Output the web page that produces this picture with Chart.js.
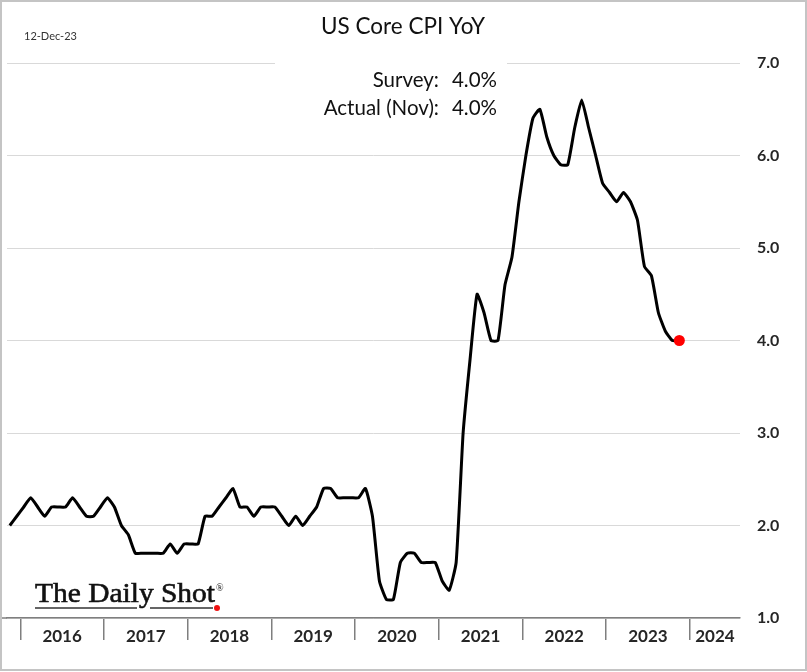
<!DOCTYPE html>
<html><head><meta charset="utf-8">
<script src="https://cdn.jsdelivr.net/npm/chart.js@4.4.0/dist/chart.umd.min.js"></script>
<style>html,body{margin:0;padding:0;background:#fff}#wrap{width:807px;height:672px;position:relative}</style>
</head><body><div id="wrap"><canvas id="c" width="807" height="672"></canvas></div>
<script>
const chartTitle = 'US Core CPI YoY';
const dateLabel = '12-Dec-23';
const noteLabels = ['Survey:', 'Actual (Nov):'];
const noteValues = ['4.0%', '4.0%'];
const logoText = 'The Daily Shot';
const yearLabels = ['2016','2017','2018','2019','2020','2021','2022','2023','2024'];
const firstMonthOffset = -2; // first value = Nov 2015, months relative to Jan 2016
const coreCpi = [
  2.0, 2.1,
  2.2, 2.3, 2.2, 2.1, 2.2, 2.2, 2.2, 2.3, 2.2, 2.1, 2.1, 2.2,
  2.3, 2.2, 2.0, 1.9, 1.7, 1.7, 1.7, 1.7, 1.7, 1.8, 1.7, 1.8,
  1.8, 1.8, 2.1, 2.1, 2.2, 2.3, 2.4, 2.2, 2.2, 2.1, 2.2, 2.2,
  2.2, 2.1, 2.0, 2.1, 2.0, 2.1, 2.2, 2.4, 2.4, 2.3, 2.3, 2.3,
  2.3, 2.4, 2.1, 1.4, 1.2, 1.2, 1.6, 1.7, 1.7, 1.6, 1.6, 1.6,
  1.4, 1.3, 1.6, 3.0, 3.8, 4.5, 4.3, 4.0, 4.0, 4.6, 4.9, 5.5,
  6.0, 6.4, 6.5, 6.2, 6.0, 5.9, 5.9, 6.3, 6.6, 6.3, 6.0, 5.7,
  5.6, 5.5, 5.6, 5.5, 5.3, 4.8, 4.7, 4.3, 4.1, 4.0, 4.0
];
const yTicks = [1, 2, 3, 4, 5, 6, 7];

const X_MIN = -1.9, X_MAX = 103.2;
const boundaries = yearLabels.map((y, i) => i * 12);
const centers = yearLabels.map((y, i) => i < yearLabels.length - 1 ? i * 12 + 6 : (i * 12 + X_MAX) / 2);
const points = coreCpi.map((v, i) => ({ x: firstMonthOffset + i + 0.5, y: v }));
const lastIdx = coreCpi.length - 1;

const deco = {
  id: 'deco',
  beforeDraw(chart) {
    const ctx = chart.ctx;
    ctx.save(); ctx.fillStyle = '#fff'; ctx.fillRect(0, 0, chart.width, chart.height); ctx.restore();
  },
  beforeDatasetsDraw(chart) {
    const ctx = chart.ctx; const a = chart.chartArea;
    ctx.save();
    ctx.strokeStyle = '#7f7f7f'; ctx.lineWidth = 1.5;
    ctx.beginPath(); ctx.moveTo(1, a.bottom); ctx.lineTo(a.left, a.bottom); ctx.stroke();
    ctx.fillStyle = '#fff'; ctx.fillRect(275, 50, 232, 75);
    ctx.fillStyle = '#111';
    ctx.font = '22.5px Lato'; ctx.textAlign = 'center'; ctx.textBaseline = 'middle';
    ctx.fillText(chartTitle, 403, 27);
    ctx.font = '20.5px Lato';
    ctx.textAlign = 'right';
    noteLabels.forEach((t, i) => ctx.fillText(t, 439, 80 + i * 28));
    noteValues.forEach((t, i) => ctx.fillText(t, 497, 80 + i * 28));
    ctx.font = '11px Lato'; ctx.textAlign = 'left'; ctx.fillStyle = '#333';
    ctx.fillText(dateLabel, 24, 36);
    ctx.font = '28px "Liberation Serif"'; ctx.fillStyle = '#111'; ctx.textBaseline = 'alphabetic';
    const w = ctx.measureText(logoText).width;
    ctx.save(); ctx.translate(35, 602); ctx.scale(180 / w, 1);
    ctx.strokeStyle = '#111'; ctx.lineWidth = 0.6; ctx.fillText(logoText, 0, 0); ctx.strokeText(logoText, 0, 0);
    ctx.restore();
    ctx.font = '10px "Liberation Serif"'; ctx.fillText('\u00AE', 216, 591);
    ctx.strokeStyle = '#333'; ctx.lineWidth = 1.3;
    ctx.beginPath(); ctx.moveTo(35, 608); ctx.lineTo(137, 608); ctx.moveTo(150, 608); ctx.lineTo(213, 608); ctx.stroke();
    ctx.fillStyle = '#ee1111'; ctx.beginPath(); ctx.arc(217, 608, 3, 0, Math.PI * 2); ctx.fill();
    ctx.restore();
  },
  afterDraw(chart) {
    const ctx = chart.ctx;
    ctx.save(); ctx.strokeStyle = '#c4c4c4'; ctx.lineWidth = 2;
    ctx.strokeRect(1, 1, 805, 669); ctx.restore();
  }
};

new Chart(document.getElementById('c'), {
  type: 'line',
  data: { datasets: [{
    data: points,
    borderColor: '#000', borderWidth: 3, tension: 0.15,
    pointRadius: ctx => ctx.dataIndex === lastIdx ? 5.5 : 0,
    pointHoverRadius: 0,
    pointBackgroundColor: '#ff0000', pointBorderColor: '#ff0000', pointBorderWidth: 0,
    clip: false
  }]},
  options: {
    responsive: false, animation: false, devicePixelRatio: 1,
    events: [],
    layout: { padding: { left: 7, top: 63, right: 0, bottom: 0 } },
    plugins: { legend: { display: false }, tooltip: { enabled: false } },
    scales: {
      x: {
        type: 'linear', min: X_MIN, max: X_MAX,
        afterBuildTicks: s => {
          s.ticks = boundaries.map(v => ({ value: v })).concat(centers.map(v => ({ value: v })))
            .sort((p, q) => p.value - q.value);
        },
        afterFit: s => { s.height = 54; },
        grid: {
          drawOnChartArea: false, drawTicks: true, tickLength: 22, lineWidth: 1.5,
          color: ctx => (ctx.tick && boundaries.includes(ctx.tick.value)) ? '#7f7f7f' : 'rgba(0,0,0,0)'
        },
        border: { display: true, color: '#7f7f7f', width: 1.5 },
        ticks: {
          autoSkip: false, maxRotation: 0, minRotation: 0, padding: -14,
          color: '#262626', font: { family: 'Lato', size: 17, weight: 'bold' },
          callback: v => { const i = centers.indexOf(v); return i >= 0 ? yearLabels[i] : ''; }
        }
      },
      y: {
        type: 'linear', position: 'right', min: 1, max: 7,
        afterBuildTicks: s => { s.ticks = yTicks.map(v => ({ value: v })); },
        afterFit: s => { s.width = 67; },
        grid: { color: '#d9d9d9', lineWidth: 1, drawTicks: false },
        border: { display: false },
        ticks: {
          padding: 17, color: '#262626', font: { family: 'Lato', size: 16, weight: 'bold' },
          callback: v => v.toFixed(1)
        }
      }
    }
  },
  plugins: [deco]
});
</script></body></html>
